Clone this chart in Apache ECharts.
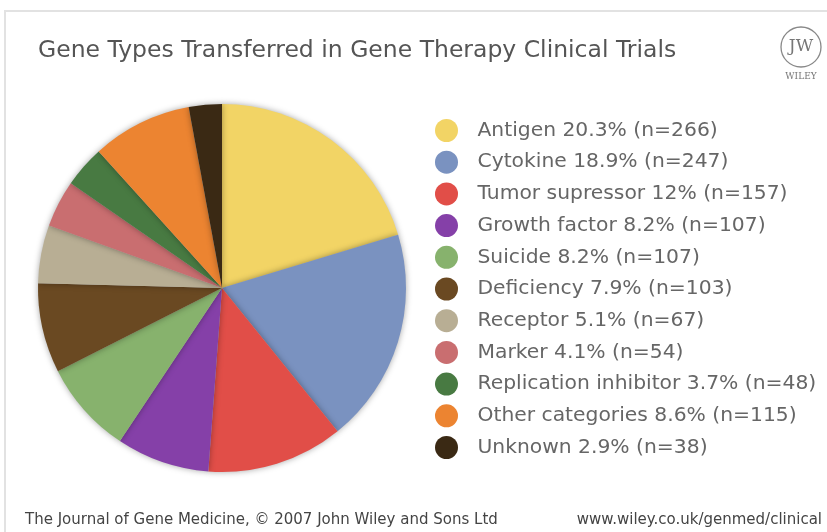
<!DOCTYPE html>
<html><head><meta charset="utf-8">
<script src="https://cdn.jsdelivr.net/npm/echarts@6/dist/echarts.min.js"></script>
<style>html,body{margin:0;padding:0;background:#fff}#c{width:827px;height:532px}</style>
</head><body><div id="c"></div>
<script>
const categories = ["Antigen","Cytokine","Tumor supressor","Growth factor","Suicide","Deficiency","Receptor","Marker","Replication inhibitor","Other categories","Unknown"];
const counts = [266,247,157,107,107,103,67,54,48,115,38];
const percents = ["20.3","18.9","12","8.2","8.2","7.9","5.1","4.1","3.7","8.6","2.9"];
const colors = ["#f2d465","#7a92c0","#e14e48","#8540a8","#87b26d","#6a4922","#b8ae94","#c96e70","#487a42","#ec8431","#3a2914"];

const chart = echarts.init(document.getElementById('c'));
const font = 'DejaVu Sans';
chart.setOption({
  animation:false,
  backgroundColor:'#fff',
  title:{text:'Gene Types Transferred in Gene Therapy Clinical Trials',left:33,top:34,
    textStyle:{fontFamily:font,fontSize:23.5,fontWeight:'normal',color:'#555'}},
  legend:{orient:'vertical',left:430,top:114,icon:'circle',itemWidth:24,itemHeight:23,itemGap:8.7,
    textStyle:{fontFamily:font,fontSize:20.3,color:'#666',rich:{t:{fontFamily:font,fontSize:20.3,color:'#666',padding:[0,0,0,14]}}},
    data:categories,
    formatter:function(name){const i=categories.indexOf(name);return '{t|'+name+' '+percents[i]+'% (n='+counts[i]+')}';}},
  series:[{type:'pie',center:[222,288],radius:184,startAngle:90,clockwise:true,
    label:{show:false},labelLine:{show:false},emphasis:{disabled:true},
    itemStyle:{shadowBlur:6,shadowColor:'rgba(0,0,0,0.35)',borderWidth:0},
    data:categories.map((c,i)=>({name:c,value:counts[i],itemStyle:{color:colors[i]}}))}],
  graphic:[
    {type:'polyline',shape:{points:[[5,532],[5,11],[827,11]]},style:{stroke:'#e2e2e2',lineWidth:2,fill:null},silent:true},
    {type:'circle',shape:{cx:801,cy:47,r:20},style:{stroke:'#888',lineWidth:1.3,fill:'#fff'}},
    {type:'text',style:{x:801,y:47,text:'JW',fontFamily:'DejaVu Serif',fontSize:17,fill:'#777',align:'center',verticalAlign:'middle'}},
    {type:'text',style:{x:801,y:77,text:'WILEY',fontFamily:'DejaVu Serif',fontSize:9,fill:'#777',align:'center',verticalAlign:'middle'}},
    {type:'text',style:{x:25,y:520,text:'The Journal of Gene Medicine, © 2007 John Wiley and Sons Ltd',fontFamily:font,fontSize:15,fill:'#444',verticalAlign:'middle'}},
    {type:'text',style:{x:822,y:520,text:'www.wiley.co.uk/genmed/clinical',fontFamily:font,fontSize:15,fill:'#444',align:'right',verticalAlign:'middle'}}
  ]
});
</script></body></html>
